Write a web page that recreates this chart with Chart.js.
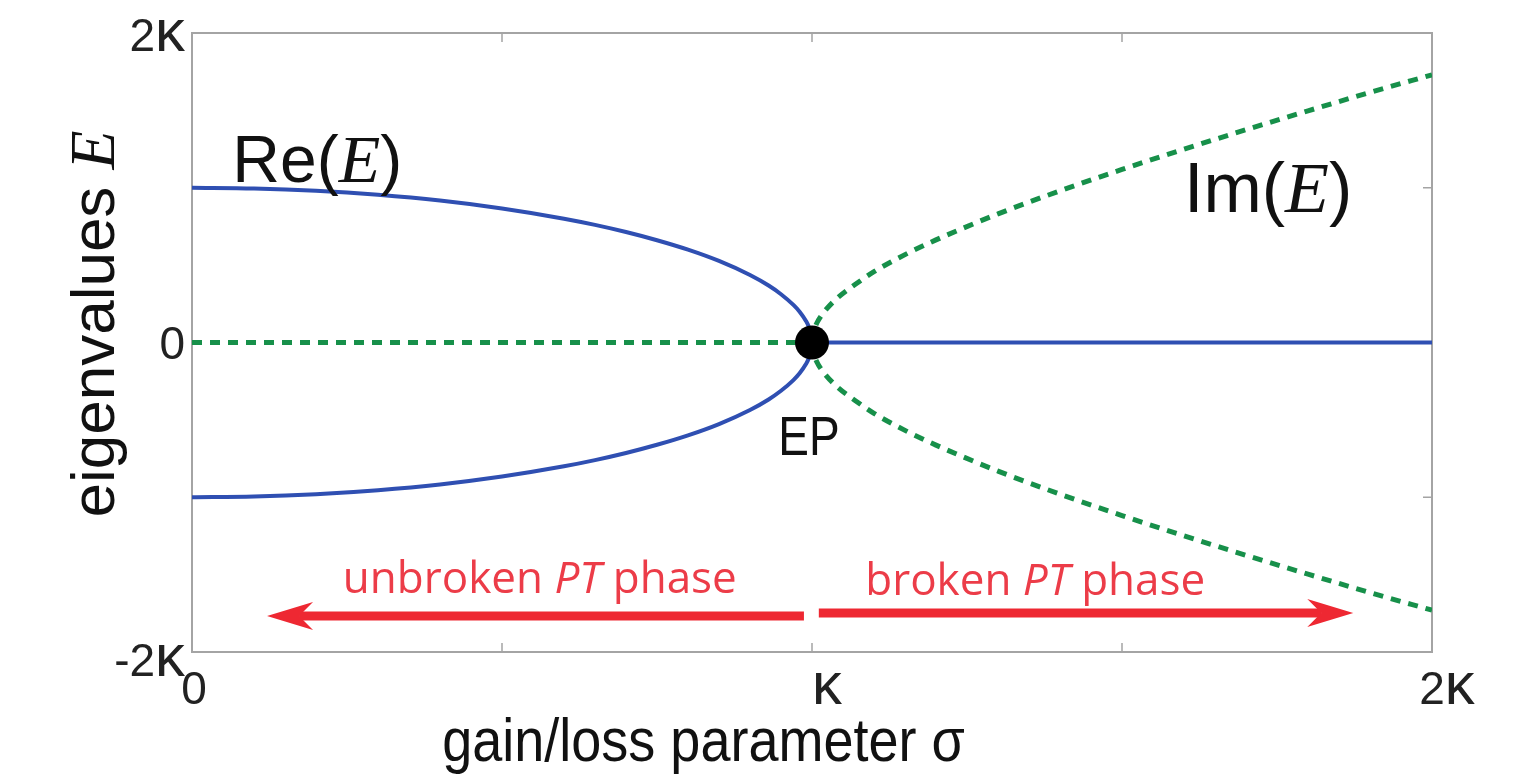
<!DOCTYPE html>
<html>
<head>
<meta charset="utf-8">
<script src="https://cdn.jsdelivr.net/npm/chart.js@4.4.1/dist/chart.umd.min.js"></script>
<style>
  html, body { margin: 0; padding: 0; background: #ffffff; }
  #wrap { width: 1538px; height: 781px; }
</style>
</head>
<body>
<div id="wrap"><canvas id="c" width="1538" height="781"></canvas></div>
<script>
// Eigenvalues of a two-mode PT-symmetric system; σ and E are in units of κ.

// Unbroken phase (σ < κ): real parts of the two eigenvalues
const sigmaUnbroken = [0, 0.1, 0.2, 0.3, 0.4, 0.5, 0.6, 0.65, 0.7, 0.75, 0.8, 0.85, 0.9, 0.93, 0.95, 0.97, 0.98, 0.99, 0.995, 0.999, 1.0];
const reUpper = [1.00, 0.995, 0.98, 0.954, 0.917, 0.866, 0.80, 0.76, 0.714, 0.661, 0.60, 0.527, 0.436, 0.368, 0.312, 0.243, 0.199, 0.141, 0.1, 0.045, 0];
const reLower = [-1.00, -0.995, -0.98, -0.954, -0.917, -0.866, -0.80, -0.76, -0.714, -0.661, -0.60, -0.527, -0.436, -0.368, -0.312, -0.243, -0.199, -0.141, -0.1, -0.045, 0];

// Broken phase (σ > κ): imaginary parts of the two eigenvalues
const sigmaBroken = [1.0, 1.001, 1.005, 1.01, 1.02, 1.04, 1.07, 1.1, 1.15, 1.2, 1.3, 1.4, 1.5, 1.6, 1.7, 1.8, 1.9, 2.0];
const imUpper = [0, 0.045, 0.1, 0.142, 0.2, 0.284, 0.376, 0.458, 0.568, 0.663, 0.831, 0.98, 1.118, 1.249, 1.375, 1.497, 1.616, 1.73];
const imLower = [0, -0.045, -0.1, -0.142, -0.2, -0.284, -0.376, -0.458, -0.568, -0.663, -0.831, -0.98, -1.118, -1.249, -1.375, -1.497, -1.616, -1.73];

// Degenerate branches: Im(E) = 0 below κ, Re(E) = 0 above κ
const sigmaBelow = [0, 1];
const imBelow = [0, 0];
const sigmaAbove = [1, 2];
const reAbove = [0, 0];

// Exceptional point
const epSigma = [1];
const epE = [0];

// Axis ticks
const xTickValues = [0, 1, 2];
const xTickLabels = ['0', 'κ', '2κ'];
const yTickValues = [-2, 0, 2];
const yTickLabels = ['-2κ', '0', '2κ'];
const xMinorTicks = [0.5, 1, 1.5];
const yMinorTicks = [-1, 1];

const BLUE = '#2f4fb2';
const GREEN = '#17904a';
const RED = '#ee2832';
const RED_TEXT = '#ec3c48';
const FRAME = '#a4a4a4';

function pts(xs, ys) { return xs.map((x, i) => ({ x: x, y: ys[i] })); }

function lineSet(xs, ys, color, dashed) {
  return {
    data: pts(xs, ys),
    showLine: true,
    borderColor: color,
    borderWidth: dashed ? 5 : 4,
    borderDash: dashed ? [10, 8] : [],
    pointRadius: 0,
    cubicInterpolationMode: 'monotone',
    fill: false,
    order: 2
  };
}

// Draw a sequence of differently styled text runs on one baseline
function drawRuns(ctx, runs, x, y, align, sy) {
  let total = 0;
  runs.forEach(r => { ctx.font = r.font; r.w = ctx.measureText(r.t).width; total += r.w; });
  let start = align === 'center' ? -total / 2 : (align === 'right' ? -total : 0);
  ctx.save();
  ctx.translate(x, y);
  ctx.scale(1, sy || 1);
  ctx.textAlign = 'left';
  ctx.textBaseline = 'alphabetic';
  let cx = start;
  runs.forEach(r => {
    ctx.font = r.font;
    ctx.fillStyle = r.color || '#111';
    ctx.fillText(r.t, cx, 0);
    cx += r.w;
  });
  ctx.restore();
}

function tickRuns(label, size) {
  const runs = [];
  for (const ch of label) {
    if (ch === 'κ') runs.push({ t: ch, font: (size * 1.3) + 'px "Liberation Sans"', color: '#222' });
    else runs.push({ t: ch, font: size + 'px "Liberation Sans"', color: '#222' });
  }
  return runs;
}

function arrow(ctx, x0, y0, x1, y1) {
  const dir = Math.sign(x1 - x0);
  const headLen = 46, half = 14, notch = 32;
  ctx.save();
  ctx.strokeStyle = RED;
  ctx.fillStyle = RED;
  ctx.lineWidth = 9;
  ctx.beginPath();
  ctx.moveTo(x0, y0);
  ctx.lineTo(x1 - dir * notch, y1);
  ctx.stroke();
  ctx.beginPath();
  ctx.moveTo(x1, y1);
  ctx.lineTo(x1 - dir * headLen, y1 - half);
  ctx.lineTo(x1 - dir * notch, y1);
  ctx.lineTo(x1 - dir * headLen, y1 + half);
  ctx.closePath();
  ctx.fill();
  ctx.restore();
}

const framePlugin = {
  id: 'frame',
  beforeDatasetsDraw(chart) {
    const { ctx, chartArea: a, scales: { x, y } } = chart;
    ctx.save();
    ctx.strokeStyle = FRAME;
    ctx.lineWidth = 2;
    ctx.strokeRect(a.left, a.top, a.right - a.left, a.bottom - a.top);
    ctx.lineWidth = 1.5;
    ctx.beginPath();
    xMinorTicks.forEach(v => {
      const px = x.getPixelForValue(v);
      ctx.moveTo(px, a.bottom); ctx.lineTo(px, a.bottom - 9);
      ctx.moveTo(px, a.top); ctx.lineTo(px, a.top + 9);
    });
    yMinorTicks.forEach(v => {
      const py = y.getPixelForValue(v);
      ctx.moveTo(a.left, py); ctx.lineTo(a.left + 9, py);
      ctx.moveTo(a.right, py); ctx.lineTo(a.right - 9, py);
    });
    ctx.stroke();
    ctx.restore();
  },
  afterDatasetsDraw(chart) {
    const { ctx, chartArea: a, scales: { x, y } } = chart;

    // tick labels
    xTickValues.forEach((v, i) => {
      const lab = xTickLabels[i];
      const shift = lab.includes('κ') ? 15 : 2;
      drawRuns(ctx, tickRuns(lab, 46), x.getPixelForValue(v) + shift, a.bottom + 52, 'center');
    });
    yTickValues.forEach((v, i) => {
      const py = y.getPixelForValue(v);
      const dy = v > 0 ? 18 : (v < 0 ? 24 : 16);
      drawRuns(ctx, tickRuns(yTickLabels[i], 46), a.left - 7, py + dy, 'right');
    });

    // axis titles
    drawRuns(ctx, [
      { t: 'gain/loss parameter σ', font: '54px "Liberation Sans"', color: '#111' }
    ], x.getPixelForValue(0.825), a.bottom + 109, 'center', 1.12);

    ctx.save();
    ctx.translate(a.left - 78, y.getPixelForValue(0.12));
    ctx.rotate(-Math.PI / 2);
    drawRuns(ctx, [
      { t: 'eigenvalues ', font: '62px "Liberation Sans"', color: '#111' },
      { t: 'E', font: 'italic 64px "Liberation Serif"', color: '#111' }
    ], 0, 0, 'center');
    ctx.restore();

    // branch labels
    drawRuns(ctx, [
      { t: 'Re(', font: '66px "Liberation Sans"', color: '#111' },
      { t: 'E', font: 'italic 68px "Liberation Serif"', color: '#111' },
      { t: ')', font: '66px "Liberation Sans"', color: '#111' }
    ], x.getPixelForValue(0.065), y.getPixelForValue(1.04), 'left');
    drawRuns(ctx, [
      { t: 'Im(', font: '70px "Liberation Sans"', color: '#111' },
      { t: 'E', font: 'italic 72px "Liberation Serif"', color: '#111' },
      { t: ')', font: '70px "Liberation Sans"', color: '#111' }
    ], x.getPixelForValue(1.6), y.getPixelForValue(0.845), 'left');
    drawRuns(ctx, [
      { t: 'EP', font: '46px "Liberation Sans"', color: '#111' }
    ], x.getPixelForValue(0.995), y.getPixelForValue(-0.727), 'center', 1.22);

    // phase annotations
    drawRuns(ctx, [
      { t: 'unbroken ', font: '44px "Open Sans"', color: RED_TEXT },
      { t: 'PT', font: 'italic 44px "Open Sans"', color: RED_TEXT },
      { t: ' phase', font: '44px "Open Sans"', color: RED_TEXT }
    ], x.getPixelForValue(0.561), y.getPixelForValue(-1.62), 'center');
    drawRuns(ctx, [
      { t: 'broken ', font: '44px "Open Sans"', color: RED_TEXT },
      { t: 'PT', font: 'italic 44px "Open Sans"', color: RED_TEXT },
      { t: ' phase', font: '44px "Open Sans"', color: RED_TEXT }
    ], x.getPixelForValue(1.36), y.getPixelForValue(-1.632), 'center');

    arrow(ctx, x.getPixelForValue(0.987), y.getPixelForValue(-1.767),
               x.getPixelForValue(0.121), y.getPixelForValue(-1.767));
    arrow(ctx, x.getPixelForValue(1.011), y.getPixelForValue(-1.748),
               x.getPixelForValue(1.873), y.getPixelForValue(-1.748));
  }
};

new Chart(document.getElementById('c'), {
  type: 'scatter',
  data: {
    datasets: [
      lineSet(sigmaBelow, imBelow, GREEN, true),
      lineSet(sigmaBroken, imUpper, GREEN, true),
      lineSet(sigmaBroken, imLower, GREEN, true),
      lineSet(sigmaUnbroken, reUpper, BLUE, false),
      lineSet(sigmaUnbroken, reLower, BLUE, false),
      lineSet(sigmaAbove, reAbove, BLUE, false),
      {
        data: pts(epSigma, epE),
        pointRadius: 17,
        pointHoverRadius: 17,
        pointBackgroundColor: '#000',
        pointBorderWidth: 0,
        showLine: false,
        order: 0
      }
    ]
  },
  options: {
    responsive: false,
    animation: false,
    events: [],
    layout: { padding: { left: 192, top: 33, right: 106, bottom: 129 } },
    plugins: { legend: { display: false }, tooltip: { enabled: false } },
    scales: {
      x: { type: 'linear', min: 0, max: 2, display: false },
      y: { type: 'linear', min: -2, max: 2, display: false }
    }
  },
  plugins: [framePlugin]
});
</script>
</body>
</html>
